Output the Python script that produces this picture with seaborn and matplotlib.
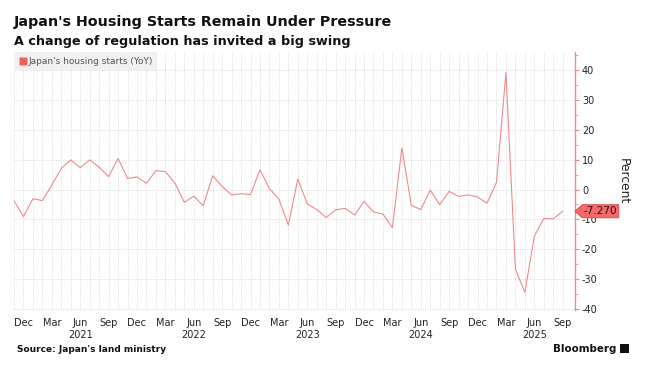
import numpy as np
import pandas as pd
import matplotlib
matplotlib.use("Agg")
import matplotlib.pyplot as plt
import matplotlib.transforms as mtransforms
from matplotlib.path import Path
from matplotlib.patches import FancyBboxPatch
from matplotlib.lines import Line2D
import seaborn as sns

# ---------------- data ----------------
months = pd.period_range("2020-11", "2025-09", freq="M").strftime("%b %Y").tolist()
yoy = [
    -3.7, -9.0,                                                         # Nov-Dec 2020
    -3.1, -3.7, 1.5, 7.1, 9.9, 7.3, 9.9, 7.5, 4.3, 10.4, 3.7, 4.2,      # 2021
    2.1, 6.3, 6.0, 2.2, -4.3, -2.2, -5.4, 4.6, 1.0, -1.8, -1.4, -1.7,   # 2022
    6.6, 0.3, -3.2, -11.9, 3.5, -4.8, -6.7, -9.4, -6.8, -6.3, -8.5, -4.0,  # 2023
    -7.5, -8.2, -12.8, 13.9, -5.3, -6.7, -0.2, -5.1, -0.6, -2.3, -1.8, -2.5,  # 2024
    -4.6, 2.4, 39.1, -26.6, -34.4, -15.6, -9.7, -9.8, -7.27,            # 2025
]
series_name = "Japan's housing starts (YoY)"
last_label = "-7.270"
y_ticks = [-40, -30, -20, -10, 0, 10, 20, 30, 40]

title = "Japan's Housing Starts Remain Under Pressure"
subtitle = "A change of regulation has invited a big swing"
source = "Source: Japan's land ministry"

df = pd.DataFrame({"idx": np.arange(len(months)), "month": months, "yoy": yoy})

# ---------------- style ----------------
sns.set_style("white")
plt.rcParams["font.family"] = ["DejaVu Sans"]

W, H = 646, 366
fig = plt.figure(figsize=(W / 100, H / 100), dpi=100)
ax = fig.add_axes([14 / W, 1 - 310 / H, (575 - 14) / W, (310 - 52) / H])

line_color = "#ec8a8f"
sns.lineplot(data=df, x="idx", y="yoy", color=line_color, linewidth=0.8,
             ax=ax, legend=False)

ax.set_xlim(0, 59.3)
ax.set_ylim(-40.3, 46)

# x ticks: quarterly labels, year under June
tick_idx = [i for i, m in enumerate(months) if m[:3] in ("Dec", "Mar", "Jun", "Sep")]
tick_lab = []
for i in tick_idx:
    mon, yr = months[i].split()
    tick_lab.append(f"{mon}\n{yr}" if mon == "Jun" else mon)
ax.set_xticks(tick_idx)
ax.set_xticklabels(tick_lab, fontsize=7, color="#222222", linespacing=1.25)
ax.set_xticks(range(len(months)), minor=True)
ax.tick_params(axis="x", which="both", length=0, pad=6)

# y on the right
ax.yaxis.tick_right()
ax.set_yticks(y_ticks)
ax.set_yticklabels([str(v) for v in y_ticks], fontsize=7, color="#222222")
ax.set_yticks([v + 5 for v in y_ticks], minor=True)
ax.tick_params(axis="y", which="major", length=3, width=0.8, color=line_color, pad=2)
ax.tick_params(axis="y", which="minor", length=2, width=0.6, color=line_color)
ax.set_xlabel("")
ax.set_ylabel("")

for s in ("top", "left", "bottom"):
    ax.spines[s].set_visible(False)
ax.spines["right"].set_color(line_color)
ax.spines["right"].set_linewidth(1.0)

grid_kw = dict(linestyle=(0, (1, 1.5)), color="#d9d9d9", linewidth=0.7)
ax.grid(axis="y", which="major", **grid_kw)
ax.grid(axis="x", which="both", **grid_kw)

# legend
handle = Line2D([], [], marker="s", linestyle="none", markersize=5.5,
                markerfacecolor="#ef5f5f", markeredgecolor="none")
leg = ax.legend([handle], [series_name], loc="upper left", bbox_to_anchor=(0, 1),
                borderaxespad=0, frameon=True, fontsize=6.5, handletextpad=0.2,
                handlelength=0.8, borderpad=0.55, fancybox=False)
leg.get_frame().set_facecolor("#eeeeee")
leg.get_frame().set_edgecolor("none")
for t in leg.get_texts():
    t.set_color("#555555")

# last-value tag
def tag_box(x0, y0, width, height, mutation_size):
    pad = mutation_size * 0.15
    x0 -= pad; y0 -= pad; width += 2 * pad; height += 2 * pad
    tip = height * 0.55
    verts = [(x0 - tip, y0 + height / 2), (x0, y0 + height), (x0 + width, y0 + height),
             (x0 + width, y0), (x0, y0), (x0 - tip, y0 + height / 2)]
    return Path(verts, closed=True)

trans = mtransforms.blended_transform_factory(ax.transAxes, ax.transData)
ax.annotate(last_label, xy=(1, yoy[-1]), xycoords=trans, xytext=(6.3, 0),
            textcoords="offset points", ha="left", va="center", fontsize=7.5,
            color="#3a0a0a", annotation_clip=False, zorder=10,
            bbox=dict(boxstyle=tag_box, facecolor="#f26b6b", edgecolor="#d9474a",
                      linewidth=0.6))

# texts
def fig_text(xpx, ypx, s, **kw):
    return fig.text(xpx / W, 1 - ypx / H, s, **kw)

renderer = fig.canvas.get_renderer()

def fit(t, target_px):
    for _ in range(3):
        w = t.get_window_extent(renderer).width
        t.set_fontsize(t.get_fontsize() * target_px / w)

t1 = fig_text(14, 26, title, fontsize=10.5, fontweight="bold", va="baseline", color="#111111")
fit(t1, 377)
t2 = fig_text(14, 45, subtitle, fontsize=8.5, fontweight="bold", va="baseline", color="#111111")
fit(t2, 337)
t3 = fig_text(17, 352, source, fontsize=7, fontweight="bold", va="baseline", color="#111111")
fit(t3, 149)
fig_text(623, 181, "Percent", fontsize=8.8, rotation=270, ha="center", va="center", color="#222222")
t4 = fig_text(553, 352, "Bloomberg", fontsize=8, fontweight="bold", va="baseline", color="#111111")
fit(t4, 63)

# small logo square
logo = FancyBboxPatch((620 / W, 1 - 353 / H), 9 / W, 9 / H, boxstyle="square,pad=0",
                      transform=fig.transFigure, facecolor="#111111", edgecolor="none")
fig.patches.append(logo)

fig.savefig("out.png", dpi=100)
